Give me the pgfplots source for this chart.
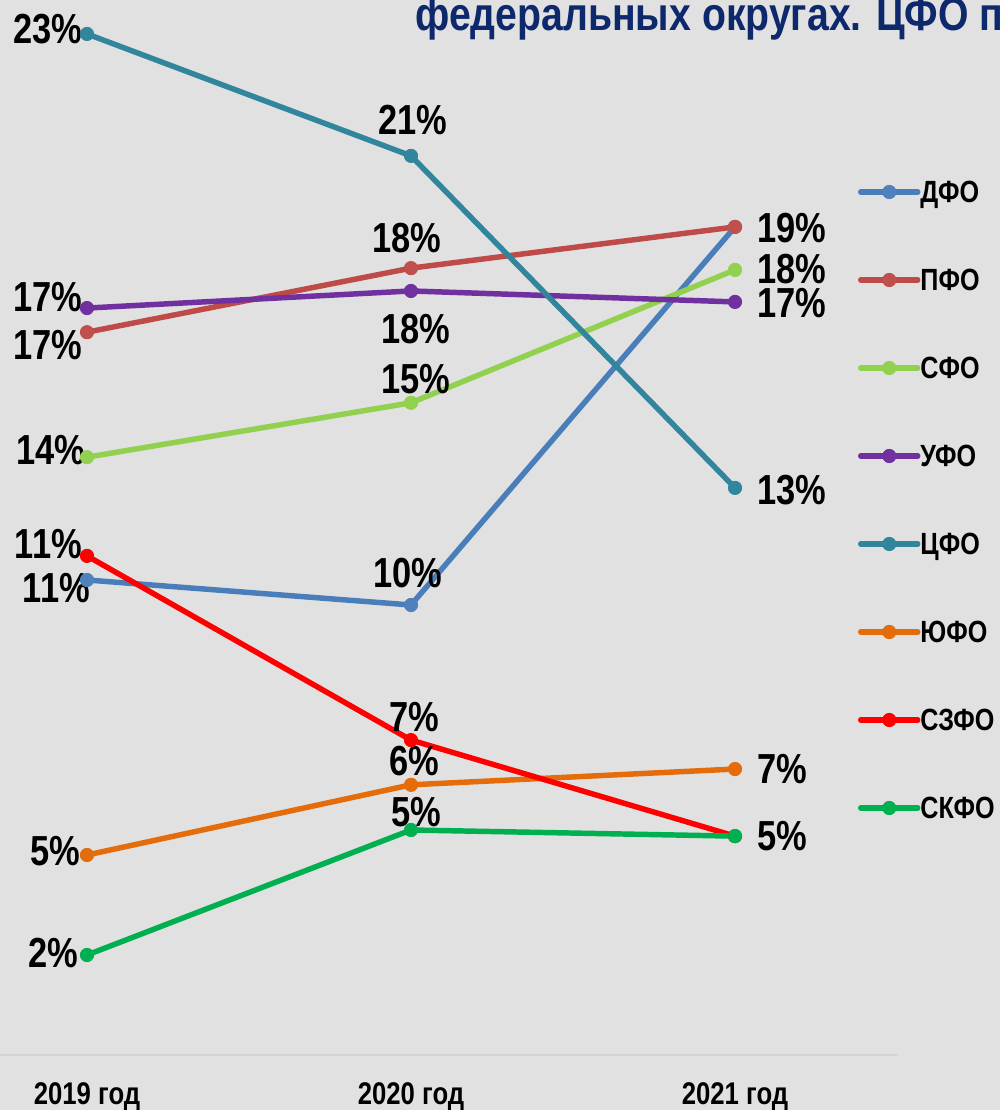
\documentclass[border=0pt]{standalone}
\usepackage{fontspec}
\setmainfont{Liberation Sans}[FakeStretch=0.82]
\newfontfamily\titlefont{Liberation Sans}[FakeStretch=0.84]
\usepackage{pgfplots}
\pgfplotsset{compat=1.18}
\definecolor{bg}{RGB}{225,225,225}
\definecolor{rulec}{RGB}{212,212,212}
\definecolor{titlec}{RGB}{14,40,108}
\definecolor{cDFO}{HTML}{4A7EBB}
\definecolor{cDFOm}{HTML}{4F81BD}
\definecolor{cPFO}{HTML}{BE4B48}
\definecolor{cPFOm}{HTML}{C0504D}
\definecolor{cSFO}{HTML}{92D050}
\definecolor{cUFO}{HTML}{7030A0}
\definecolor{cCFO}{HTML}{31859C}
\definecolor{cYFO}{HTML}{E46C0A}
\definecolor{cSZFO}{HTML}{FF0000}
\definecolor{cSKFO}{HTML}{00B050}
\newcommand{\lab}[4]{\node[lbl,anchor=#1] at (axis cs:{(#2-87)/324},{2+(955-#3)/43.86}) {#4};}
\begin{document}
\begin{tikzpicture}[lbl/.style={inner sep=0pt,outer sep=0pt,text depth=0pt,font=\fontsize{31.5pt}{32pt}\selectfont\bfseries}]
\fill[bg] (0,0) rectangle (750pt,832.5pt);
\useasboundingbox (0,0) rectangle (750pt,832.5pt);
\begin{axis}[
  at={(0pt,0pt)}, anchor=south west,
  scale only axis, width=750pt, height=832.5pt,
  xmin=-0.268519, xmax=2.817901,
  ymin=-1.53397, ymax=23.77380,
  axis line style={draw=none},
  ytick=\empty,
  xtick={0,1,2},
  xticklabels={2019 год,2020 год,2021 год},
  major tick length=0pt,
  xticklabel style={anchor=base, yshift=4.5pt, font=\fontsize{23.5pt}{24pt}\selectfont\bfseries},
  clip=false,
  every axis plot/.append style={line width=4.1pt, mark=*, mark size=5pt, line cap=round, line join=round},
  legend image code/.code={\draw[mark repeat=2,mark phase=2] plot coordinates {(0pt,0pt) (21.4pt,0pt) (42.75pt,0pt)};},
  legend cell align=left,
  legend style={at={(0.858,0.836937)}, anchor=north west, draw=none, fill=none,
    inner sep=0pt, outer sep=0pt, row sep=49.5pt, column sep=0pt,
    font=\fontsize{23pt}{24pt}\selectfont\bfseries,
    nodes={inner sep=0pt, text height=16.5pt, text depth=0pt}},
]
\addplot[forget plot, color=rulec, line width=1.2pt, mark=none] coordinates {(-0.268519,-0.28) (2.5,-0.28)};
\addplot[color=cDFO, mark options={fill=cDFOm, draw=cDFOm, line width=0.6pt}] coordinates {(0,10.55) (1,9.98) (2,18.60)};
\addlegendentry{ДФО}
\addplot[color=cPFO, mark options={fill=cPFOm, draw=cPFOm, line width=0.6pt}] coordinates {(0,16.20) (1,17.66) (2,18.60)};
\addlegendentry{ПФО}
\addplot[color=cSFO, mark options={fill=cSFO, draw=cSFO, line width=0.6pt}] coordinates {(0,13.35) (1,14.59) (2,17.62)};
\addlegendentry{СФО}
\addplot[color=cUFO, mark options={fill=cUFO, draw=cUFO, line width=0.6pt}] coordinates {(0,16.75) (1,17.14) (2,16.89)};
\addlegendentry{УФО}
\addplot[color=cCFO, mark options={fill=cCFO, draw=cCFO, line width=0.6pt}] coordinates {(0,23.00) (1,20.22) (2,12.65)};
\addlegendentry{ЦФО}
\addplot[color=cYFO, mark options={fill=cYFO, draw=cYFO, line width=0.6pt}] coordinates {(0,4.28) (1,5.88) (2,6.24)};
\addlegendentry{ЮФО}
\addplot[color=cSZFO, mark options={fill=cSZFO, draw=cSZFO, line width=0.6pt}] coordinates {(0,11.10) (1,6.90) (2,4.71)};
\addlegendentry{СЗФО}
\addplot[color=cSKFO, mark options={fill=cSKFO, draw=cSKFO, line width=0.6pt}] coordinates {(0,2.00) (1,4.85) (2,4.71)};
\addlegendentry{СКФО}
% left labels
\lab{east}{82}{29}{23\%}
\lab{east}{82}{297}{17\%}
\lab{east}{82}{345}{17\%}
\lab{east}{85}{450}{14\%}
\lab{east}{82}{544}{11\%}
\lab{east}{90}{587.5}{11\%}
\lab{east}{80}{851}{5\%}
\lab{east}{78}{953}{2\%}
% middle labels
\lab{center}{413}{120}{21\%}
\lab{center}{407}{238}{18\%}
\lab{center}{416}{329}{18\%}
\lab{center}{416}{379}{15\%}
\lab{center}{408}{573}{10\%}
\lab{center}{414}{717}{7\%}
\lab{center}{414}{761}{6\%}
\lab{center}{416}{812}{5\%}
% right labels
\lab{west}{757}{228}{19\%}
\lab{west}{757}{269}{18\%}
\lab{west}{757}{303}{17\%}
\lab{west}{757}{490}{13\%}
\lab{west}{757}{769}{7\%}
\lab{west}{757}{836}{5\%}
\end{axis}
\node[anchor=base west, inner sep=0pt, text=titlec, font=\titlefont\fontsize{35pt}{36pt}\selectfont\bfseries] at (311.25pt,809.25pt) {федеральных округах. ЦФО по};
\end{tikzpicture}
\end{document}
